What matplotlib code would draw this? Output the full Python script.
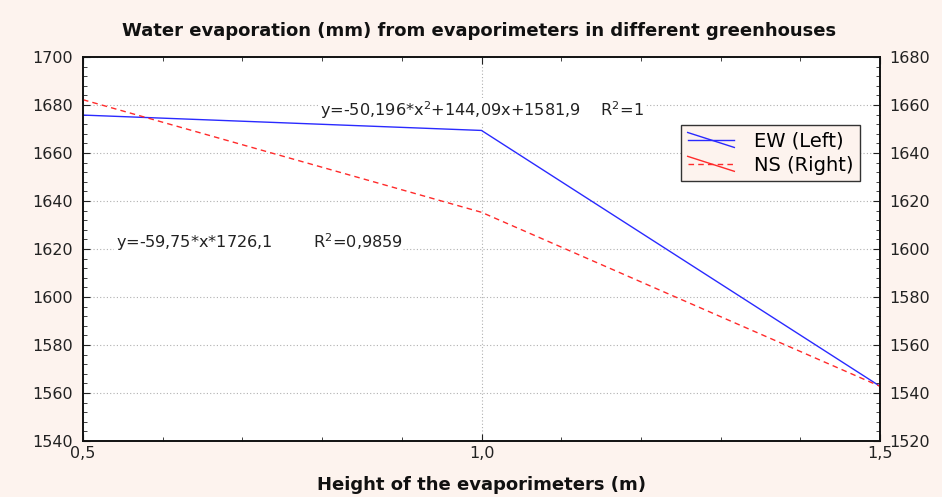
import matplotlib
matplotlib.use("Agg")
import matplotlib.pyplot as plt
from matplotlib.ticker import MultipleLocator
from matplotlib.lines import Line2D
from matplotlib.legend_handler import HandlerBase

plt.rcParams['font.family'] = ['DejaVu Sans']

height = [0.5, 1.0, 1.5]
ew_left = [1675.8, 1669.4, 1562.8]
ns_right = [1662.2, 1615.3, 1542.8]

x_ticks = [0.5, 1.0, 1.5]
x_labels = ["0,5", "1,0", "1,5"]
left_ticks = [1540, 1560, 1580, 1600, 1620, 1640, 1660, 1680, 1700]
right_ticks = [1520, 1540, 1560, 1580, 1600, 1620, 1640, 1660, 1680]

bg = "#fdf3ee"
txt = "#222222"


# statistica-like legend key: a horizontal line crossed by a diagonal one
class CrossHandler(HandlerBase):
    def create_artists(self, legend, orig_handle, xdescent, ydescent,
                       width, height, fontsize, trans):
        x0, x1 = -xdescent, -xdescent + width
        ym = height / 2 - ydescent
        h = Line2D([x0, x1], [ym, ym])
        h.update_from(orig_handle)
        h.set_transform(trans)
        d = Line2D([x0, x1], [ym + height * 0.55, ym - height * 0.55],
                   color=orig_handle.get_color(), lw=orig_handle.get_linewidth())
        d.set_transform(trans)
        return [h, d]


fig = plt.figure(figsize=(9.42, 4.97), dpi=100, facecolor=bg)
ax = fig.add_axes([0.0881, 0.1127, 0.8461, 0.7726])
ax.set_facecolor("white")

l1, = ax.plot(height, ew_left, color="#2a2aff", lw=1.0, label="EW (Left)")
ax.set_xlim(0.5, 1.5)
ax.set_ylim(1540, 1700)
ax.set_xticks(x_ticks)
ax.set_xticklabels(x_labels)
ax.set_yticks(left_ticks)
ax.xaxis.set_minor_locator(MultipleLocator(0.1))
ax.yaxis.set_minor_locator(MultipleLocator(4))
ax.grid(True, which="major", color="#b0b0b0", linestyle=(0, (1, 2)), lw=0.8)
ax.tick_params(which="both", direction="in", top=True, labelsize=11.5, colors=txt)
ax.tick_params(which="major", length=5)
ax.tick_params(which="minor", length=3)
ax.tick_params(axis="y", pad=7)

ax2 = ax.twinx()
l2, = ax2.plot(height, ns_right, color="#ff2a2a", lw=1.0, linestyle=(0, (4, 3)), label="NS (Right)")
ax2.set_ylim(1520, 1680)
ax2.set_yticks(right_ticks)
ax2.yaxis.set_minor_locator(MultipleLocator(4))
ax2.tick_params(which="both", direction="in", labelsize=11.5, colors=txt, pad=7)
ax2.tick_params(which="major", length=5)
ax2.tick_params(which="minor", length=3)

for a in (ax, ax2):
    for s in a.spines.values():
        s.set_linewidth(1.2)
        s.set_color("#111111")

ax.text(0.797, 1678, "y=-50,196*x$^2$+144,09x+1581,9    R$^2$=1", fontsize=11.6,
        ha="left", va="center", color=txt,
        bbox=dict(facecolor="white", edgecolor="none", pad=1))
ax.text(0.541, 1623, "y=-59,75*x*1726,1        R$^2$=0,9859", fontsize=11.6,
        ha="left", va="center", color=txt,
        bbox=dict(facecolor="white", edgecolor="none", pad=1))

leg = ax2.legend(handles=[l1, l2], loc="upper right", bbox_to_anchor=(0.975, 0.823),
                 borderaxespad=0, fontsize=14, frameon=True, fancybox=False,
                 borderpad=0.35, handlelength=2.4, labelspacing=0.25, handletextpad=1.0,
                 handler_map={Line2D: CrossHandler()})
leg.get_frame().set_edgecolor("#333333")
leg.get_frame().set_facecolor(bg)
leg.get_frame().set_alpha(1)

fig.text(0.509, 0.937, "Water evaporation (mm) from evaporimeters in different greenhouses",
         ha="center", va="center", fontsize=13, fontweight="bold", color="#111111")
ax.set_xlabel("Height of the evaporimeters (m)", fontsize=13, fontweight="bold",
              color="#111111", labelpad=11)

fig.savefig("out.png", dpi=100, facecolor=bg)
